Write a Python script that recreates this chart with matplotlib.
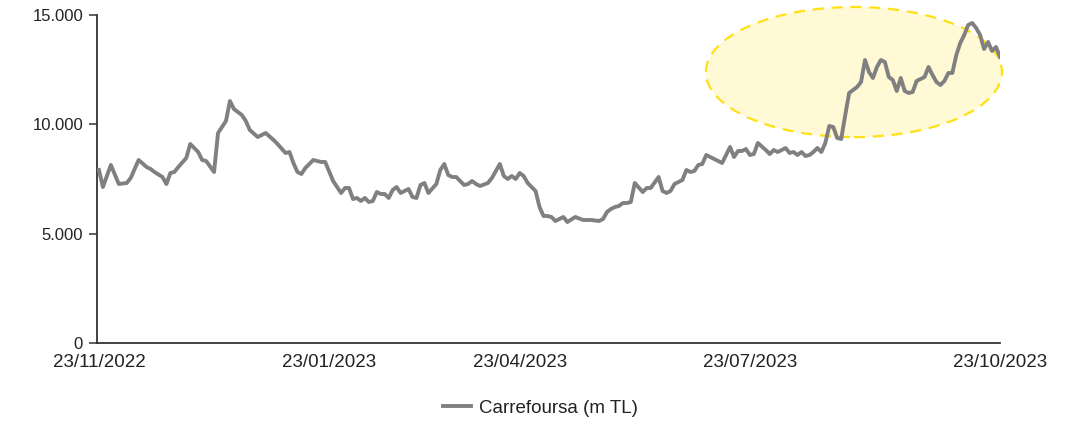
import matplotlib
matplotlib.use("Agg")
import matplotlib.pyplot as plt
from matplotlib.patches import Ellipse

# trading-session index and share price level (m TL)
session = [0, 1, 3, 5, 7, 8, 10, 12, 13, 14, 16, 17, 18, 19, 20, 22, 23, 25, 26, 27,
           29, 30, 32, 33, 34, 36, 37, 38, 40, 42, 44, 45, 47, 48, 49, 50, 51, 52, 54, 56,
           57, 59, 61, 62, 63, 64, 65, 66, 67, 68, 69, 70, 71, 72, 73, 74, 75, 76, 78, 79,
           80, 81, 82, 83, 85, 86, 87, 88, 89, 90, 92, 93, 94, 95, 96, 98, 99, 101, 102, 103,
           104, 105, 106, 107, 108, 109, 110, 111, 112, 113, 114, 115, 117, 118, 120, 122, 124, 126, 127, 128,
           129, 130, 131, 132, 133, 134, 135, 137, 138, 139, 141, 142, 143, 144, 145, 146, 147, 148, 149, 150,
           151, 152, 153, 155, 157, 159, 160, 161, 162, 163, 164, 165, 166, 168, 169, 170, 171, 173, 174, 175,
           176, 177, 178, 179, 180, 181, 182, 183, 184, 185, 186, 187, 188, 189, 191, 192, 193, 194, 195, 196,
           197, 198, 199, 200, 201, 202, 203, 204, 205, 206, 207, 208, 209, 210, 211, 212, 213, 214, 215, 216,
           217, 218, 219, 220, 221, 222, 223, 224, 225, 226, 227]
price = [7911, 7134, 8140, 7271, 7317, 7545, 8369, 8048, 7957, 7820, 7591, 7271, 7774, 7820, 8048, 8460, 9100, 8734, 8369, 8323,
         7820, 9603, 10152, 11067, 10700, 10426, 10150, 9740, 9420, 9603, 9283, 9100, 8689, 8734, 8231, 7820, 7728, 8003, 8369, 8277,
         8277, 7408, 6860, 7088, 7088, 6585, 6631, 6494, 6631, 6448, 6494, 6905, 6814, 6814, 6631, 6997, 7134, 6860, 7042, 6677,
         6631, 7225, 7317, 6860, 7271, 7911, 8186, 7683, 7591, 7591, 7225, 7271, 7408, 7271, 7180, 7317, 7545, 8186, 7637, 7500,
         7637, 7500, 7774, 7637, 7317, 7134, 6951, 6219, 5808, 5808, 5762, 5579, 5762, 5533, 5762, 5625, 5625, 5579, 5670, 5991,
         6128, 6219, 6265, 6402, 6402, 6448, 7317, 6905, 7088, 7088, 7591, 6951, 6860, 6951, 7271, 7362, 7454, 7911, 7820, 7865,
         8140, 8186, 8597, 8414, 8231, 8963, 8506, 8780, 8780, 8871, 8597, 8643, 9146, 8826, 8643, 8826, 8734, 8917, 8689, 8734,
         8597, 8734, 8551, 8597, 8734, 8917, 8734, 9146, 9923, 9877, 9374, 9329, 10400, 11432, 11707, 11935, 12941, 12393, 12118, 12621,
         12941, 12850, 12164, 12027, 11524, 12118, 11524, 11432, 11478, 11981, 12073, 12164, 12621, 12256, 11935, 11798, 11981, 12347, 12347, 13170,
         13719, 14085, 14542, 14634, 14405, 14085, 13444, 13765, 13353, 13536, 13079]

tick_session = [0, 58, 106, 164, 227]
tick_labels = ["23/11/2022", "23/01/2023", "23/04/2023", "23/07/2023", "23/10/2023"]
y_ticks = [0, 5000, 10000, 15000]
y_labels = ["0", "5.000", "10.000", "15.000"]

plt.rcParams['font.family'] = ['Liberation Sans', 'DejaVu Sans']

fig = plt.figure(figsize=(10.75, 4.22), dpi=100)
ax = fig.add_axes([0.0902, 0.1872, 0.8400, 0.7773])

# highlight ellipse
ell = Ellipse((190.2, 12390), width=74.6, height=5950, facecolor='#FFF9D6',
              edgecolor='#FFE014', linewidth=1.6, linestyle=(0, (5, 3.5)),
              zorder=1, clip_on=False)
ax.add_patch(ell)

ax.plot(session, price, color='#808080', linewidth=2.8, zorder=3,
        solid_joinstyle='round', label='Carrefoursa (m TL)')

ax.set_xlim(-0.5, 227)
ax.set_ylim(0, 15000)
ax.set_yticks(y_ticks)
ax.set_yticklabels(y_labels)
ax.set_xticks(tick_session)
ax.set_xticklabels(tick_labels)

for s in ['top', 'right']:
    ax.spines[s].set_visible(False)
for s in ['left', 'bottom']:
    ax.spines[s].set_color('#333333')
    ax.spines[s].set_linewidth(1.3)

ax.tick_params(axis='y', length=6, width=1.1, color='#333333', labelsize=12,
               labelcolor='#222222', pad=4)
ax.tick_params(axis='x', length=0, labelsize=13.5, labelcolor='#222222', pad=8)

fig.legend(loc='center', bbox_to_anchor=(0.503, 0.033), frameon=False,
           fontsize=13.5, handlelength=1.45, handletextpad=0.45, labelcolor='#222222')

fig.savefig('out.png', dpi=100)
